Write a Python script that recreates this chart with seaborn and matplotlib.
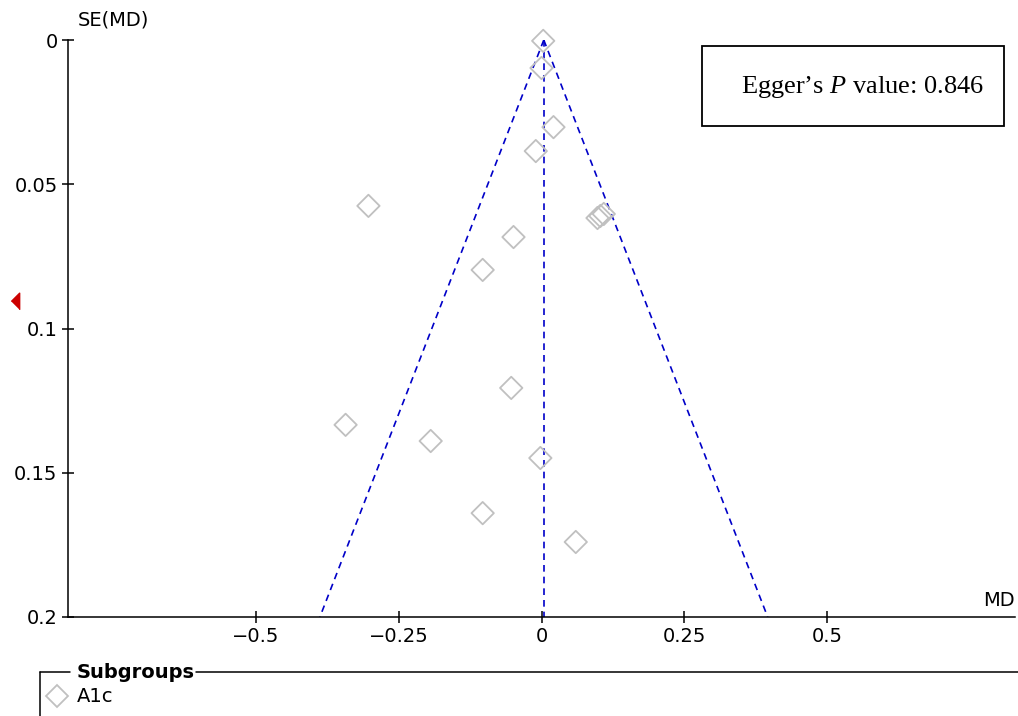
import numpy as np
import pandas as pd
import matplotlib.pyplot as plt
import seaborn as sns
from matplotlib.lines import Line2D
from matplotlib.patches import Rectangle
from matplotlib.transforms import blended_transform_factory

# Study estimates
md = [0.003, 0.0, 0.021, -0.01, -0.303, 0.098, 0.103, 0.109, -0.049,
      -0.103, -0.053, -0.343, -0.194, -0.002, -0.103, 0.06]
se_md = [0.0003, 0.0097, 0.0302, 0.0385, 0.0575, 0.0617, 0.061, 0.0603, 0.0683,
         0.0797, 0.1206, 0.1334, 0.139, 0.1449, 0.164, 0.174]
pooled_md = 0.004
se_max = 0.2
arrow_se = 0.0905

x_ticks = [-0.5, -0.25, 0, 0.25, 0.5]
x_tick_labels = ["\u22120.5", "\u22120.25", "0", "0.25", "0.5"]
y_ticks = [0, 0.05, 0.1, 0.15, 0.2]
y_tick_labels = ["0", "0.05", "0.1", "0.15", "0.2"]
subgroup = "A1c"
egger_p = 0.846

df = pd.DataFrame({"MD": md, "SE": se_md, "Subgroup": subgroup})

sns.set_style("white")
plt.rcParams["font.family"] = ["DejaVu Sans"]
plt.rcParams["text.color"] = "black"
plt.rcParams["mathtext.fontset"] = "custom"
plt.rcParams["mathtext.rm"] = "Liberation Serif"
plt.rcParams["mathtext.it"] = "Liberation Serif:italic"

fig = plt.figure(figsize=(10.18, 7.16), dpi=100)
ax = fig.add_axes([68 / 1018, 99 / 716, 947 / 1018, 577 / 716])

# funnel limits (95% pseudo confidence)
se_line = np.array([0, se_max])
dash = (0, (4, 3))
ax.plot(pooled_md - 1.96 * se_line, se_line, color="#0000c8", ls=dash, lw=1.2)
ax.plot(pooled_md + 1.96 * se_line, se_line, color="#0000c8", ls=dash, lw=1.2)
ax.plot([pooled_md, pooled_md], se_line, color="#0000c8", ls=dash, lw=1.2)

sns.scatterplot(data=df, x="MD", y="SE", marker="D", s=130, facecolor="none",
                edgecolor="#c0c0c0", linewidth=1.3, ax=ax, legend=False,
                zorder=3, clip_on=False)

# red arrow on the SE axis
trans = blended_transform_factory(ax.transAxes, ax.transData)
ax.plot([-53 / 947], [arrow_se], marker=[(-0.5, 0), (0.5, 1), (0.5, -1)],
        ms=12, color="#cc0000", transform=trans, clip_on=False)

ax.set_xlim(-0.829, 0.829)
ax.set_ylim(se_max, 0)
ax.set_xticks(x_ticks)
ax.set_xticklabels(x_tick_labels)
ax.set_yticks(y_ticks)
ax.set_yticklabels(y_tick_labels)
ax.tick_params(axis="both", direction="inout", length=9, width=1.1,
               labelsize=14, pad=3, colors="black", left=True, bottom=True)
ax.set_xlabel("")
ax.set_ylabel("")
for side in ["top", "right"]:
    ax.spines[side].set_visible(False)
for side in ["left", "bottom"]:
    ax.spines[side].set_linewidth(1.1)
    ax.spines[side].set_color("black")

fig.text(78 / 1018, 1 - 20 / 716, "SE(MD)", fontsize=14, va="center", ha="left")
fig.text(1015 / 1018, 1 - 600 / 716, "MD", fontsize=14, va="center", ha="right")

# Egger box
fig.add_artist(Rectangle((702 / 1018, 1 - 126 / 716), 302 / 1018, 80 / 716,
                         transform=fig.transFigure, fill=False, lw=1.3, ec="black"))
fig.text(862 / 1018, 1 - 87 / 716, "Egger\u2019s $\\mathit{P}$ value: %.3f" % egger_p,
         family="Liberation Serif", fontsize=19, ha="center", va="center")

# Subgroups legend
fy = 1 - 672 / 716
fig.add_artist(Line2D([40 / 1018, 70 / 1018], [fy, fy], color="black", lw=1.1, transform=fig.transFigure))
fig.add_artist(Line2D([196 / 1018, 1.0], [fy, fy], color="black", lw=1.1, transform=fig.transFigure))
fig.add_artist(Line2D([40 / 1018, 40 / 1018], [0, fy], color="black", lw=1.1, transform=fig.transFigure))
fig.text(77 / 1018, fy, "Subgroups", fontsize=14, fontweight="bold", va="center", ha="left")
fig.add_artist(Line2D([57 / 1018], [1 - 696 / 716], marker="D", ms=11, mfc="none",
                      mec="#c0c0c0", mew=1.3, transform=fig.transFigure))
fig.text(77 / 1018, 1 - 697 / 716, subgroup, fontsize=14, va="center", ha="left")

fig.savefig("out.png", dpi=100)
